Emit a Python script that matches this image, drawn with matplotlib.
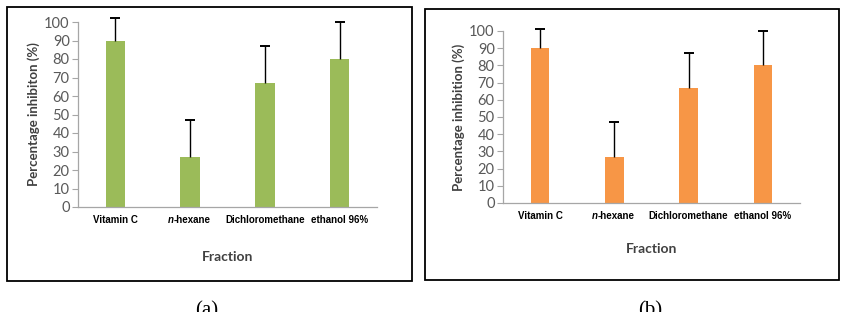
import matplotlib.pyplot as plt
from matplotlib.patches import Rectangle
import numpy as np

categories = ["Vitamin C", "n-hexane", "Dichloromethane", "ethanol 96%"]
values_a = [90, 27, 67, 80]
err_a = [12, 20, 20, 20]
values_b = [90, 27, 67, 80]
err_b = [11, 20, 20, 20]
yticks = list(range(0, 101, 10))

GREEN = "#9BBB59"
ORANGE = "#F79646"
GRAY = "#595959"
NARROW = ["Liberation Sans Narrow", "Liberation Sans", "DejaVu Sans"]

plt.rcParams["font.family"] = ["Lato", "DejaVu Sans"]

fig = plt.figure(figsize=(8.45, 3.12), dpi=100)
W, H = 845, 312


def fig_box(x0, y0, x1, y1):
    # pixel box (top-left origin) -> figure fraction [left, bottom, width, height]
    return [x0 / W, 1 - y1 / H, (x1 - x0) / W, (y1 - y0) / H]


def panel(rect_px, axes_px, values, errs, color, ylabel, bar_w, caption, cap_x, xlab_pad):
    l, b, w, h = fig_box(*rect_px)
    fig.patches.append(Rectangle((l, b), w, h, transform=fig.transFigure, fill=False,
                                 edgecolor="black", linewidth=1.3))
    ax = fig.add_axes(fig_box(*axes_px))
    x = np.arange(len(categories))
    ax.bar(x, values, width=bar_w, color=color, zorder=2)
    vals = np.array(values)
    e = np.array(errs)
    ax.vlines(x, vals, vals + e, color="black", linewidth=1.0, zorder=3, clip_on=False)
    ax.plot(x, vals + e, linestyle="none", marker="_", markersize=7, markeredgewidth=1.4,
            color="black", zorder=3, clip_on=False)
    ax.set_xlim(-0.5, len(categories) - 0.5)
    ax.set_ylim(0, 100)
    ax.set_yticks(yticks)
    ax.tick_params(axis="y", labelsize=10.5, colors="#A6A6A6", labelcolor=GRAY,
                   length=4, width=0.8, pad=2)
    ax.set_xticks(x)
    ax.set_xticklabels([])
    ax.tick_params(axis="x", length=0, pad=0)
    trans = ax.get_xaxis_transform()
    for xi, name in zip(x, categories):
        if name.startswith("n-"):
            t1 = ax.text(xi - 0.22, -0.045, "n", transform=trans, ha="right", va="top",
                         fontsize=7, fontweight="bold", style="italic", family=NARROW)
            ax.annotate("-hexane", xy=(1, 0), xycoords=t1, ha="left", va="bottom",
                        fontsize=7, fontweight="bold", family=NARROW)
        else:
            ax.text(xi, -0.045, name, transform=trans, ha="center", va="top",
                    fontsize=7, fontweight="bold", family=NARROW)
    for side in ["top", "right"]:
        ax.spines[side].set_visible(False)
    for side in ["left", "bottom"]:
        ax.spines[side].set_color("#A6A6A6")
        ax.spines[side].set_linewidth(0.9)
    ax.set_ylabel(ylabel, fontsize=9.5, fontweight="bold", color="#404040", labelpad=3)
    ax.set_xlabel("Fraction", fontsize=10, fontweight="bold", color="#404040",
                  labelpad=xlab_pad)
    fig.text(cap_x / W, 1 - 301 / H, caption, ha="center", va="top", fontsize=15,
             family="Liberation Serif")
    return ax


panel((7, 7, 412, 281), (78, 22, 377, 207), values_a, err_a, GREEN,
      "Percentage inhibiton (%)", 0.26, "(a)", 207, 32)
panel((425, 9, 839, 280), (503, 31, 800, 203), values_b, err_b, ORANGE,
      "Percentage inhibition (%)", 0.25, "(b)", 650, 29)

fig.savefig("out.png", dpi=100)
